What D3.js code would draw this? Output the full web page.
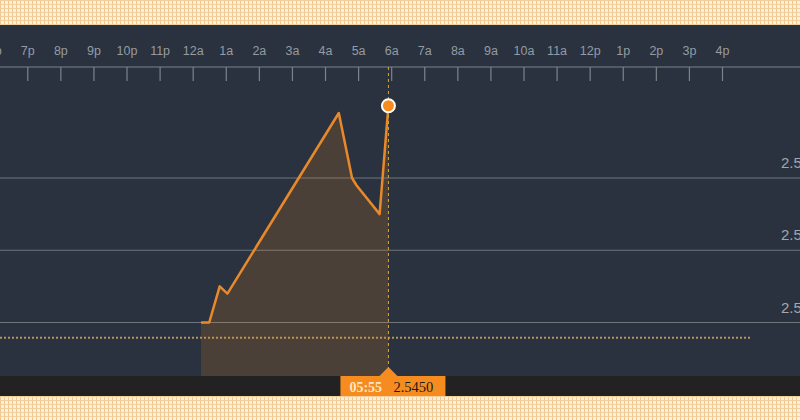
<!DOCTYPE html>
<html lang="en">
<head>
    <meta charset="UTF-8">
    <title>Intraday price</title>
    <style>
        body {
            margin: 0;
            background: #fdf1df;
            font-family: 'Liberation Sans', Arial, sans-serif;
        }
        svg {
            display: block;
        }
    </style>
</head>
<body>
    <svg width="800" height="420"></svg>
    <script src="https://d3js.org/d3.v7.min.js"></script>
    <script>
        // Data
        const times = ["00:15", "00:30", "00:49", "01:03", "04:25", "04:49", "04:57", "05:39", "05:55"];
        const prices = [2.5420, 2.5420, 2.5425, 2.5424, 2.5449, 2.5440, 2.5439, 2.5435, 2.5450];
        const tickLabels = ["6p", "7p", "8p", "9p", "10p", "11p", "12a", "1a", "2a", "3a", "4a", "5a",
                            "6a", "7a", "8a", "9a", "10a", "11a", "12p", "1p", "2p", "3p", "4p"];
        const gridValues = [2.542, 2.543, 2.544];
        const previousClose = 2.54179;
        const lastTime = "05:55";
        const lastPrice = "2.5450";

        const width = 800;
        const height = 420;
        const panelTop = 25;
        const panelBottom = 376;
        const stripBottom = 396;
        const axisY = 67;

        const svg = d3.select("svg");
        const defs = svg.append("defs");

        // Cream checked pattern for the page border
        const pat = defs.append("pattern")
            .attr("id", "check")
            .attr("width", 4).attr("height", 4)
            .attr("patternUnits", "userSpaceOnUse");
        pat.append("rect").attr("width", 4).attr("height", 4).attr("fill", "#fdf0dd");
        pat.append("rect").attr("x", 0).attr("width", 1).attr("height", 4).attr("fill", "#f2c68c");
        pat.append("rect").attr("y", 0).attr("width", 4).attr("height", 1).attr("fill", "#f4cf9e");

        svg.append("rect").attr("width", width).attr("height", height).attr("fill", "url(#check)");

        // Dark chart panel and bottom strip
        svg.append("rect")
            .attr("x", 0).attr("y", panelTop)
            .attr("width", width).attr("height", panelBottom - panelTop)
            .attr("fill", "#29323e");
        svg.append("rect")
            .attr("x", 0).attr("y", panelBottom)
            .attr("width", width).attr("height", stripBottom - panelBottom)
            .attr("fill", "#222223");

        // Scales
        const day0 = new Date(2020, 0, 1, 18, 0);
        const day1end = new Date(2020, 0, 2, 16, 0);
        const parseT = t => {
            const [h, m] = t.split(":").map(Number);
            return new Date(2020, 0, h >= 18 ? 1 : 2, h, m);
        };
        const x = d3.scaleTime()
            .domain([day0, day1end])
            .range([-5.8, 722]);
        const y = d3.scaleLinear()
            .domain([2.542, 2.544])
            .range([322.5, 178]);

        const data = times.map((t, i) => ({ t: parseT(t), v: prices[i] }));

        // Horizontal grid lines with right-hand labels
        const grid = svg.append("g");
        grid.selectAll("line")
            .data(gridValues)
            .join("line")
            .attr("x1", 0).attr("x2", width)
            .attr("y1", d => y(d)).attr("y2", d => y(d))
            .attr("stroke", "#6f757d")
            .attr("stroke-width", 1.2);
        grid.selectAll("text")
            .data(gridValues)
            .join("text")
            .attr("x", 781)
            .attr("y", d => y(d) - 10)
            .attr("fill", "#a3a7ad")
            .attr("font-size", 15)
            .text(d => d.toFixed(3));

        // Top time axis
        const tickDates = d3.timeHour.range(day0, d3.timeHour.offset(day1end, 1));
        const axis = d3.axisBottom(x)
            .tickValues(tickDates)
            .tickFormat((d, i) => tickLabels[i])
            .tickSize(14)
            .tickPadding(0);
        const axisG = svg.append("g")
            .attr("transform", `translate(0,${axisY})`)
            .call(axis);
        axisG.select(".domain").remove();
        axisG.append("line")
            .attr("x1", 0).attr("x2", width)
            .attr("stroke", "#7d838b").attr("stroke-width", 1.2);
        axisG.selectAll(".tick line").attr("stroke", "#7d838b").attr("stroke-width", 1.2);
        axisG.selectAll(".tick text")
            .attr("y", -12)
            .attr("dy", 0)
            .attr("fill", "#959ba3")
            .attr("font-size", 12.5)
            .attr("font-family", "'Liberation Sans', Arial, sans-serif");

        // Previous close dotted line
        svg.append("line")
            .attr("x1", 0).attr("x2", 752)
            .attr("y1", y(previousClose)).attr("y2", y(previousClose))
            .attr("stroke", "#b8935a")
            .attr("stroke-width", 2)
            .attr("stroke-dasharray", "2,2");

        // Area and line
        const area = d3.area()
            .x(d => x(d.t))
            .y0(panelBottom)
            .y1(d => y(d.v));
        svg.append("path")
            .datum(data)
            .attr("d", area)
            .attr("fill", "#f68b1f")
            .attr("fill-opacity", 0.17);

        const line = d3.line()
            .x(d => x(d.t))
            .y(d => y(d.v));
        svg.append("path")
            .datum(data)
            .attr("d", line)
            .attr("fill", "none")
            .attr("stroke", "#e8892b")
            .attr("stroke-width", 2.5)
            .attr("stroke-linejoin", "round");

        // Crosshair at last point
        const last = data[data.length - 1];
        const lx = x(last.t);
        svg.append("line")
            .attr("x1", lx).attr("x2", lx)
            .attr("y1", axisY).attr("y2", panelBottom)
            .attr("stroke", "#e0a62a")
            .attr("stroke-width", 1)
            .attr("stroke-dasharray", "3,3");

        svg.append("circle")
            .attr("cx", lx).attr("cy", y(last.v))
            .attr("r", 6.5)
            .attr("fill", "#f68b1f")
            .attr("stroke", "#ffffff")
            .attr("stroke-width", 2);

        // Bottom label box
        const box = svg.append("g");
        box.append("rect")
            .attr("x", lx - 48).attr("y", panelBottom)
            .attr("width", 105).attr("height", stripBottom - panelBottom)
            .attr("fill", "#f68b1f");
        box.append("path")
            .attr("d", `M${lx - 9},${panelBottom} L${lx},${panelBottom - 9} L${lx + 9},${panelBottom} Z`)
            .attr("fill", "#f68b1f");
        box.append("text")
            .attr("x", lx - 39).attr("y", panelBottom + 16)
            .attr("fill", "#fde6c4")
            .attr("font-family", "'Liberation Serif', 'DejaVu Serif', serif")
            .attr("font-weight", 700)
            .attr("font-size", 14)
            .text(lastTime);
        box.append("text")
            .attr("x", lx + 5).attr("y", panelBottom + 16)
            .attr("fill", "#1c1c1c")
            .attr("font-family", "'Liberation Serif', 'DejaVu Serif', serif")
            .attr("font-size", 14.5)
            .text(lastPrice);
    </script>
</body>
</html>
